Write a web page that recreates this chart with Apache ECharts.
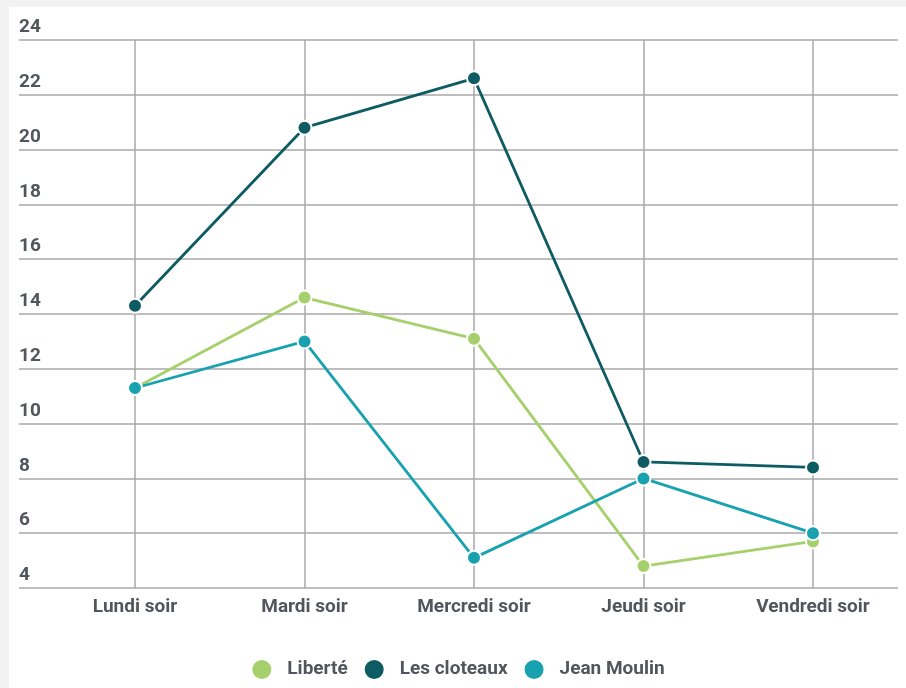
<!DOCTYPE html>
<html>
<head>
<meta charset="utf-8">
<script src="https://cdn.jsdelivr.net/npm/echarts@6/dist/echarts.min.js"></script>
<style>
  html, body { margin: 0; padding: 0; background: #f2f2f2; }
  #chart { position: absolute; left: 9px; top: 7px; width: 897px; height: 681px; background: #fff; }
</style>
</head>
<body>
<div id="chart"></div>
<script>
// données
const categories = ['Lundi soir', 'Mardi soir', 'Mercredi soir', 'Jeudi soir', 'Vendredi soir']
const liberte = [11.3, 14.6, 13.1, 4.8, 5.7]
const cloteaux = [14.3, 20.8, 22.6, 8.6, 8.4]
const jeanMoulin = [11.3, 13.0, 5.1, 8.0, 6.0]

const textColor = '#50565c'
const gridColor = '#a8a8a8'

const makeSeries = (name, data, color, z) => ({
  name: name,
  type: 'line',
  xAxisIndex: 1,
  yAxisIndex: 1,
  data: data,
  z: z,
  symbol: 'circle',
  symbolSize: 14,
  lineStyle: { color: color, width: 2.8 },
  itemStyle: { color: color, borderColor: '#fff', borderWidth: 2 },
  emphasis: { disabled: true },
})

let chart = echarts.init(document.getElementById('chart'))
let option = {
  animation: false,
  textStyle: { fontFamily: 'Roboto' },
  grid: [
    { left: 10, right: 8, top: 33, bottom: 100 },
    { left: 126, right: 93, top: 33, bottom: 100 },
  ],
  legend: {
    top: 646,
    left: 'center',
    icon: 'circle',
    itemWidth: 21,
    itemHeight: 21,
    itemGap: 15,
    textStyle: { color: textColor, fontSize: 19, fontWeight: 'bold', padding: [0, 0, 0, 10] },
    data: ['Liberté', 'Les cloteaux', 'Jean Moulin'],
  },
  xAxis: [
    { gridIndex: 0, type: 'value', show: false },
    {
      gridIndex: 1,
      type: 'category',
      data: categories,
      boundaryGap: false,
      axisLine: { show: false },
      axisTick: { show: false },
      axisLabel: { color: textColor, fontSize: 19, fontWeight: 'bold', margin: 10, interval: 0 },
      splitLine: { show: true, interval: 0, lineStyle: { color: gridColor, width: 1.5 } },
    },
  ],
  yAxis: [
    {
      gridIndex: 0,
      type: 'value',
      min: 4,
      max: 24,
      interval: 2,
      axisLine: { show: false },
      axisTick: { show: false },
      axisLabel: {
        inside: true,
        margin: 0,
        verticalAlign: 'bottom',
        padding: [0, 0, 3, 0],
        color: textColor,
        fontSize: 19,
        fontWeight: 'bold',
      },
      splitLine: { show: true, lineStyle: { color: gridColor, width: 1.5 } },
    },
    { gridIndex: 1, type: 'value', min: 4, max: 24, show: false },
  ],
  series: [
    makeSeries('Liberté', liberte, '#a6d06b', 3),
    makeSeries('Les cloteaux', cloteaux, '#0d5b63', 4),
    makeSeries('Jean Moulin', jeanMoulin, '#18a2b0', 5),
  ],
}
chart.setOption(option)
</script>
</body>
</html>
